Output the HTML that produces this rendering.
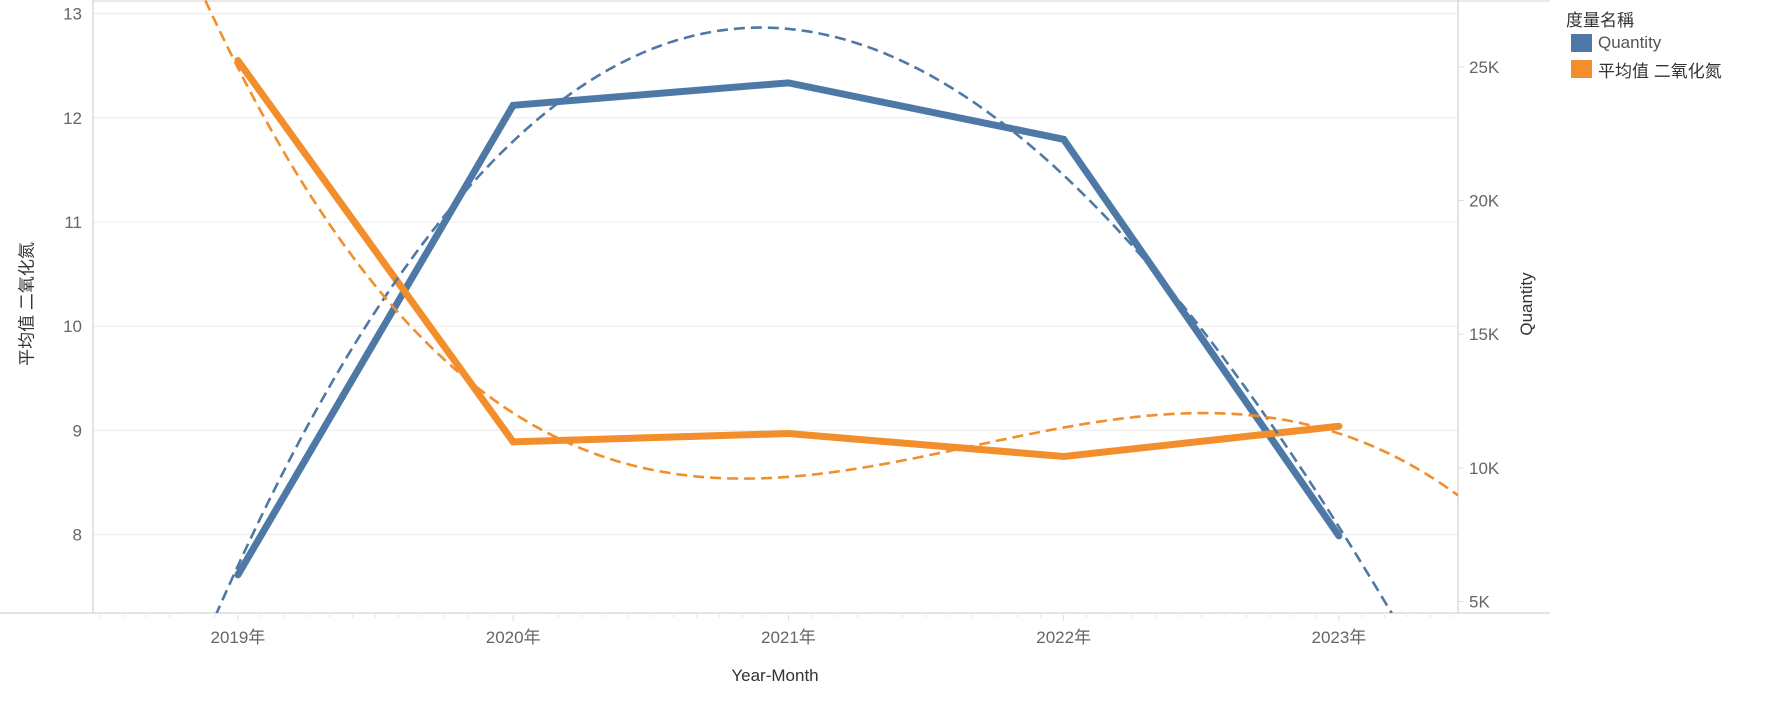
<!DOCTYPE html>
<html><head><meta charset="utf-8"><style>
html,body{margin:0;padding:0;background:#fff;width:1776px;height:701px;overflow:hidden;font-family:"Liberation Sans","Noto Sans CJK SC",sans-serif;position:relative;}
svg{display:block;position:absolute;left:0;top:0;}
</style></head><body>
<svg id="chart" width="1776" height="701" xmlns="http://www.w3.org/2000/svg"></svg>
<script>
const years = ["2019年","2020年","2021年","2022年","2023年"];
const quantity = [6000, 23560, 24400, 22290, 7460];
const no2 = [12.55, 8.89, 8.97, 8.75, 9.04];
const leftTicks = [8, 9, 10, 11, 12, 13];
const rightTicks = [5000, 10000, 15000, 20000, 25000];
const rightTickLabels = ["5K","10K","15K","20K","25K"];

const NS = "http://www.w3.org/2000/svg";
const svg = document.getElementById("chart");
const L = 93, R = 1458, T = 0, B = 613;
const xS = i => 237.9 + i * 275.25;
const yL = v => 13.6 + (13 - v) * 104.2;
const yR = v => 66.8 + (25000 - v) / 5000 * 133.7;
function mk(tag, attrs, parent) {
  const e = document.createElementNS(NS, tag);
  for (const k in attrs) e.setAttribute(k, attrs[k]);
  (parent || svg).appendChild(e);
  return e;
}
const defs = mk("defs", {});
const cp = mk("clipPath", {id: "plotclip"}, defs);
mk("rect", {x: L, y: T, width: R - L, height: B - T}, cp);

leftTicks.forEach(v => {
  const g = mk("line", {x1: L, x2: R, y1: yL(v), y2: yL(v), stroke: "#ececec", "stroke-width": 1});
  
  
  const t = mk("text", {x: 82, y: yL(v) + 6, "text-anchor": "end", "font-size": 17, fill: "#666"});
  t.textContent = v;
  
  
});
rightTicks.forEach((v, i) => {
  mk("line", {x1: R, x2: R + 6, y1: yR(v), y2: yR(v), stroke: "#ddd"});
  const t = mk("text", {x: 1469, y: yR(v) + 6, "font-size": 17, fill: "#666"});
  t.textContent = rightTickLabels[i];
  
  
});
mk("line", {x1: L, x2: 1550, y1: 1, y2: 1, stroke: "#d4d4d4"});
mk("line", {x1: L, x2: L, y1: 0, y2: B, stroke: "#c8c8c8"});
mk("line", {x1: R, x2: R, y1: 0, y2: B, stroke: "#c8c8c8"});
mk("line", {x1: 0, x2: 1550, y1: B, y2: B, stroke: "#c8c8c8"});
for (let m = -20; m <= 60; m++) {
  const x = xS(m / 12);
  if (x < L || x > R) continue;
  const major = m % 12 === 0;
  mk("line", {x1: x, x2: x, y1: B + 2, y2: B + (major ? 8 : 4), stroke: "#ddd"});
}
years.forEach((y, i) => {
  const t = mk("text", {x: xS(i), y: 643, "text-anchor": "middle", "font-size": 17, fill: "#666"});
  t.textContent = y;
  
  
});

function fit(vals, deg) {
  const n = deg + 1, A = [], b = [];
  for (let r = 0; r < n; r++) { A.push(new Array(n).fill(0)); b.push(0); }
  vals.forEach((v, i) => {
    for (let r = 0; r < n; r++) {
      for (let c = 0; c < n; c++) A[r][c] += Math.pow(i, r + c);
      b[r] += v * Math.pow(i, r);
    }
  });
  for (let c = 0; c < n; c++) {
    let p = c; for (let r = c + 1; r < n; r++) if (Math.abs(A[r][c]) > Math.abs(A[p][c])) p = r;
    [A[c], A[p]] = [A[p], A[c]]; [b[c], b[p]] = [b[p], b[c]];
    for (let r = 0; r < n; r++) if (r !== c) {
      const f = A[r][c] / A[c][c];
      for (let k = c; k < n; k++) A[r][k] -= f * A[c][k];
      b[r] -= f * b[c];
    }
  }
  const co = b.map((v, i) => v / A[i][i]);
  return t => co.reduce((s, c, i) => s + c * Math.pow(t, i), 0);
}
const g = mk("g", {"clip-path": "url(#plotclip)"});
function trend(vals, ys, color, name) {
  const f = fit(vals, 3);
  let d = "";
  for (let x = L; x <= R; x += 3) {
    const t = (x - 237.9) / 275.25;
    d += (d ? "L" : "M") + x + "," + ys(f(t)).toFixed(1);
  }
  const p = mk("path", {d, fill: "none", stroke: color, "stroke-width": 2.6, "stroke-dasharray": "11 6"}, g);
  
  
}
function line(vals, ys, color, name) {
  const d = vals.map((v, i) => (i ? "L" : "M") + xS(i) + "," + ys(v)).join("");
  const p = mk("path", {d, fill: "none", stroke: color, "stroke-width": 7, "stroke-linejoin": "miter", "stroke-linecap": "round"}, g);
  
  
}
line(quantity, yR, "#4e79a7", "quantity-line");
line(no2, yL, "#f28e2b", "no2-line");
trend(quantity, yR, "#4e79a7", "quantity-trend-line");
trend(no2, yL, "#f28e2b", "no2-trend-line");
</script>
<div style="position:absolute;left:25px;top:304px;transform:translate(-50%,-50%) rotate(-90deg);font-size:17px;color:#333;white-space:nowrap;">平均值 二氧化氮</div>
<div style="position:absolute;left:1527px;top:304px;transform:translate(-50%,-50%) rotate(-90deg);font-size:17px;color:#333;white-space:nowrap;">Quantity</div>
<div style="position:absolute;left:775px;top:676px;transform:translate(-50%,-50%);font-size:17px;color:#333;white-space:nowrap;">Year-Month</div>
<div style="position:absolute;left:1566px;top:6px;font-size:17px;color:#333;">
  <div style="height:24px;">度量名稱</div>
  <div style="display:flex;align-items:center;height:26px;"><span style="display:inline-block;width:21px;height:18px;background:#4e79a7;margin:0 6px 0 5px;"></span><span style="color:#555">Quantity</span></div>
  <div style="display:flex;align-items:center;height:26px;"><span style="display:inline-block;width:21px;height:18px;background:#f28e2b;margin:0 6px 0 5px;"></span><span>平均值 二氧化氮</span></div>
</div>
</body></html>
